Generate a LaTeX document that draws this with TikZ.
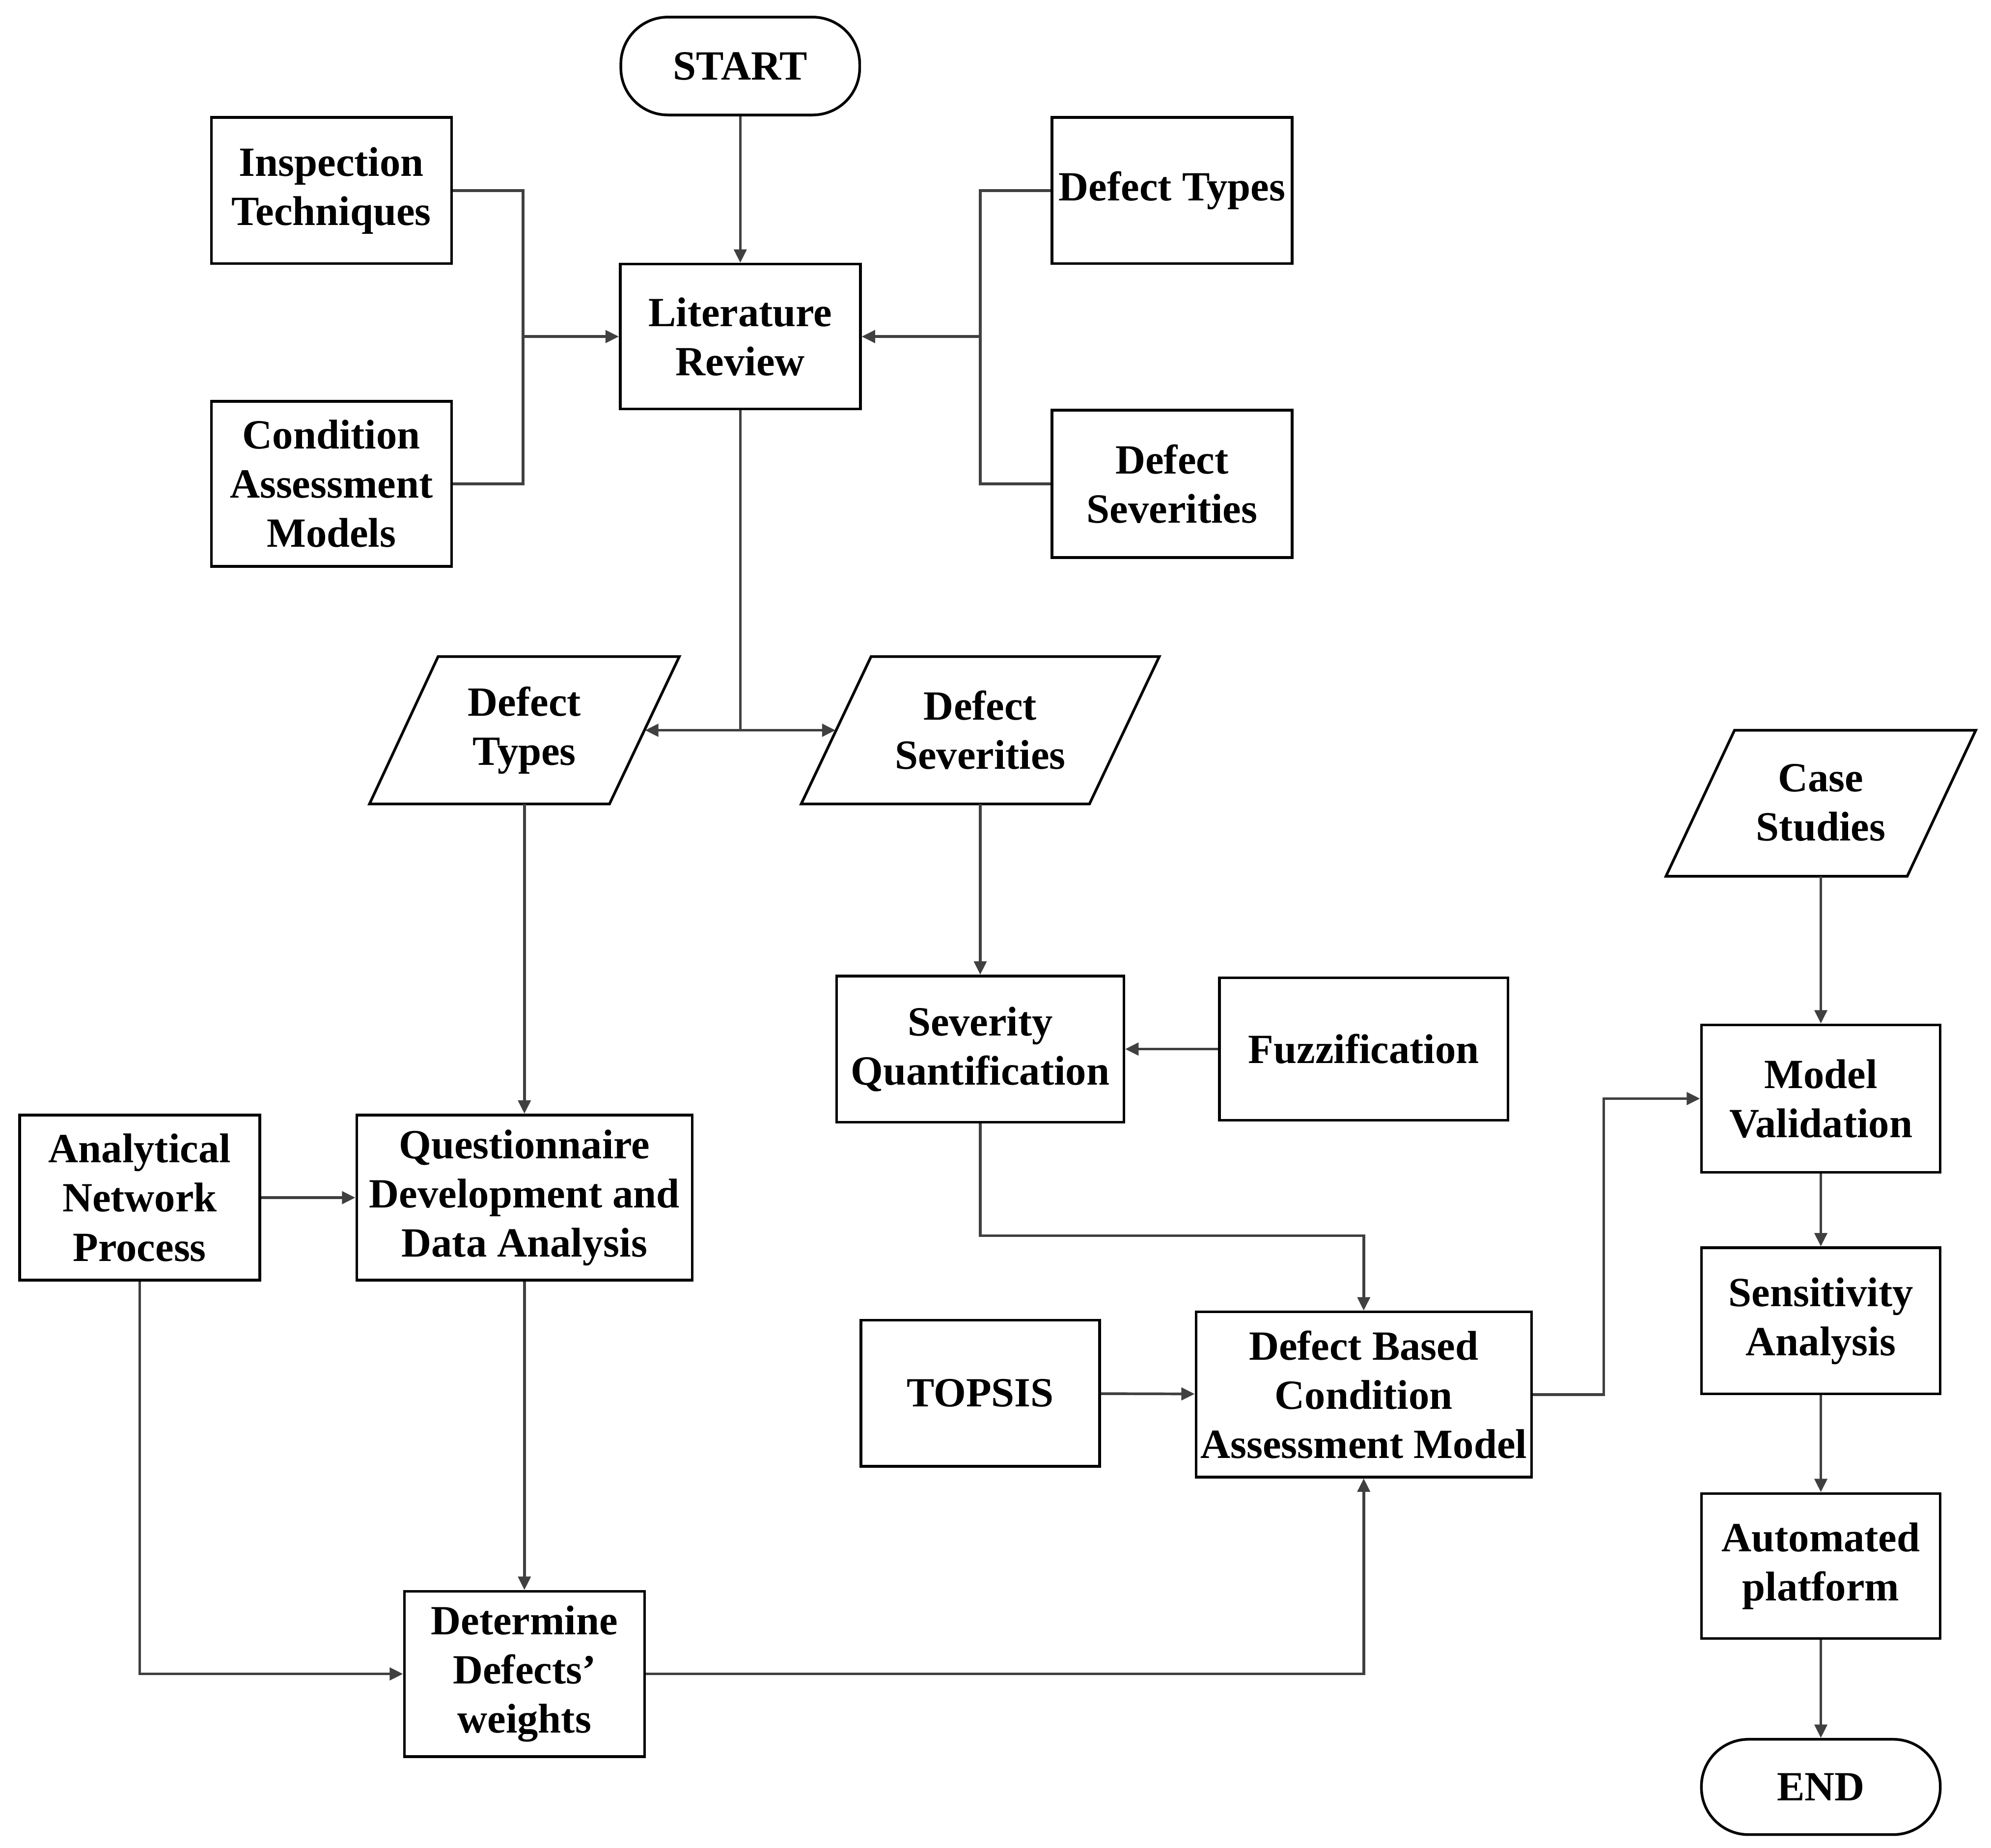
\documentclass[tikz,border=0pt]{standalone}
\usepackage{fontspec}
\setmainfont{Liberation Serif}
\usetikzlibrary{arrows.meta}
\begin{document}
\begin{tikzpicture}[x=0.01cm,y=-0.01cm,
  every node/.style={font=\fontsize{9.3}{11}\selectfont\bfseries, align=center, inner sep=0pt},
  box/.style={draw, line width=0.6pt, minimum width=#1},
  box/.default={1.89cm},
  term/.style={draw, line width=0.6pt, rounded corners=0.37cm, minimum width=1.88cm, minimum height=0.77cm},
  ln/.style={line width=0.6pt, draw=black!75},
  arr/.style={ln, -{Triangle[length=3pt,width=2.8pt]}}]
\useasboundingbox (0,0) rectangle (1568,1455);
% parallelogram helper
\def\para#1#2#3{\draw[line width=0.6pt] ($(#1)+(-#3/2+27,-58)$) -- ++(#3,0) -- ++(-54,116) -- ++(-#3,0) -- cycle;}
\node[term] (start) at (583,52) {START};
\node[box, minimum height=1.15cm] (insp) at (261,150) {Inspection\\Techniques};
\node[box, minimum height=1.30cm] (cam) at (261,381) {Condition\\Assessment\\Models};
\node[box, minimum height=1.14cm] (lit) at (583,265) {Literature\\Review};
\node[box, minimum height=1.15cm] (dt) at (923,150) {Defect Types};
\node[box, minimum height=1.16cm] (ds) at (923,381) {Defect\\Severities};
\draw[line width=0.6pt] (345,517) -- (535,517) -- (480,633) -- (291,633) -- cycle;
\node (pdt) at (413,575) {Defect\\Types};
\draw[line width=0.6pt] (686,517) -- (913,517) -- (858,633) -- (631,633) -- cycle;
\node (pds) at (772,575) {Defect\\Severities};
\draw[line width=0.6pt] (1366,575) -- (1556,575) -- (1502,690) -- (1312,690) -- cycle;
\node (cs) at (1434,632) {Case\\Studies};
\coordinate (pdtR) at (508,575);
\coordinate (pdsL) at (658,575);
\coordinate (pdtS) at (413,633);
\coordinate (pdsS) at (772,633);
\coordinate (csS) at (1434,690);
\node[box=2.26cm, minimum height=1.15cm] (sq) at (772,826) {Severity\\Quantification};
\node[box=2.27cm, minimum height=1.12cm] (fz) at (1074,826) {Fuzzification};
\node[box, minimum height=1.30cm] (anp) at (110,943) {Analytical\\Network\\Process};
\node[box=2.64cm, minimum height=1.30cm] (qd) at (413,943) {Questionnaire\\Development and\\Data Analysis};
\node[box=1.88cm, minimum height=1.16cm] (mv) at (1434,865) {Model\\Validation};
\node[box=1.88cm, minimum height=1.15cm] (sa) at (1434,1040) {Sensitivity\\Analysis};
\node[box=1.88cm, minimum height=1.15cm] (top) at (772,1097) {TOPSIS};
\node[box=2.64cm, minimum height=1.30cm] (db) at (1074,1098) {Defect Based\\Condition\\Assessment Model};
\node[box, minimum height=1.30cm] (dw) at (413,1318) {Determine\\Defects'\\weights};
\node[box=1.88cm, minimum height=1.14cm] (ap) at (1434,1233) {Automated\\platform};
\node[term, minimum height=0.75cm] (end) at (1434,1407) {END};
% connectors
\draw[arr] (start) -- (lit);
\draw[ln] (insp.east) -- (412,150) -- (412,381) -- (cam.east);
\draw[arr] (412,265) -- (lit.west);
\draw[ln] (dt.west) -- (772,150) -- (772,381) -- (ds.west);
\draw[arr] (772,265) -- (lit.east);
\draw[ln] (lit.south) -- (583,575);
\draw[arr] (583,575) -- (pdtR);
\draw[arr] (583,575) -- (pdsL);
\draw[arr] (pdtS) -- (qd.north);
\draw[arr] (pdsS) -- (sq.north);
\draw[arr] (fz) -- (sq);
\draw[arr] (anp) -- (qd);
\draw[arr] (anp.south) |- (dw.west);
\draw[arr] (qd) -- (dw);
\draw[arr] (sq.south) -- (772,973) -| (db.north);
\draw[arr] (top) -- (db);
\draw[arr] (dw.east) -| (db.south);
\draw[arr] (db.east) -- (1263,1098) |- (mv.west);
\draw[arr] (csS) -- (mv.north);
\draw[arr] (mv) -- (sa);
\draw[arr] (sa) -- (ap);
\draw[arr] (ap) -- (end);
\end{tikzpicture}
\end{document}
